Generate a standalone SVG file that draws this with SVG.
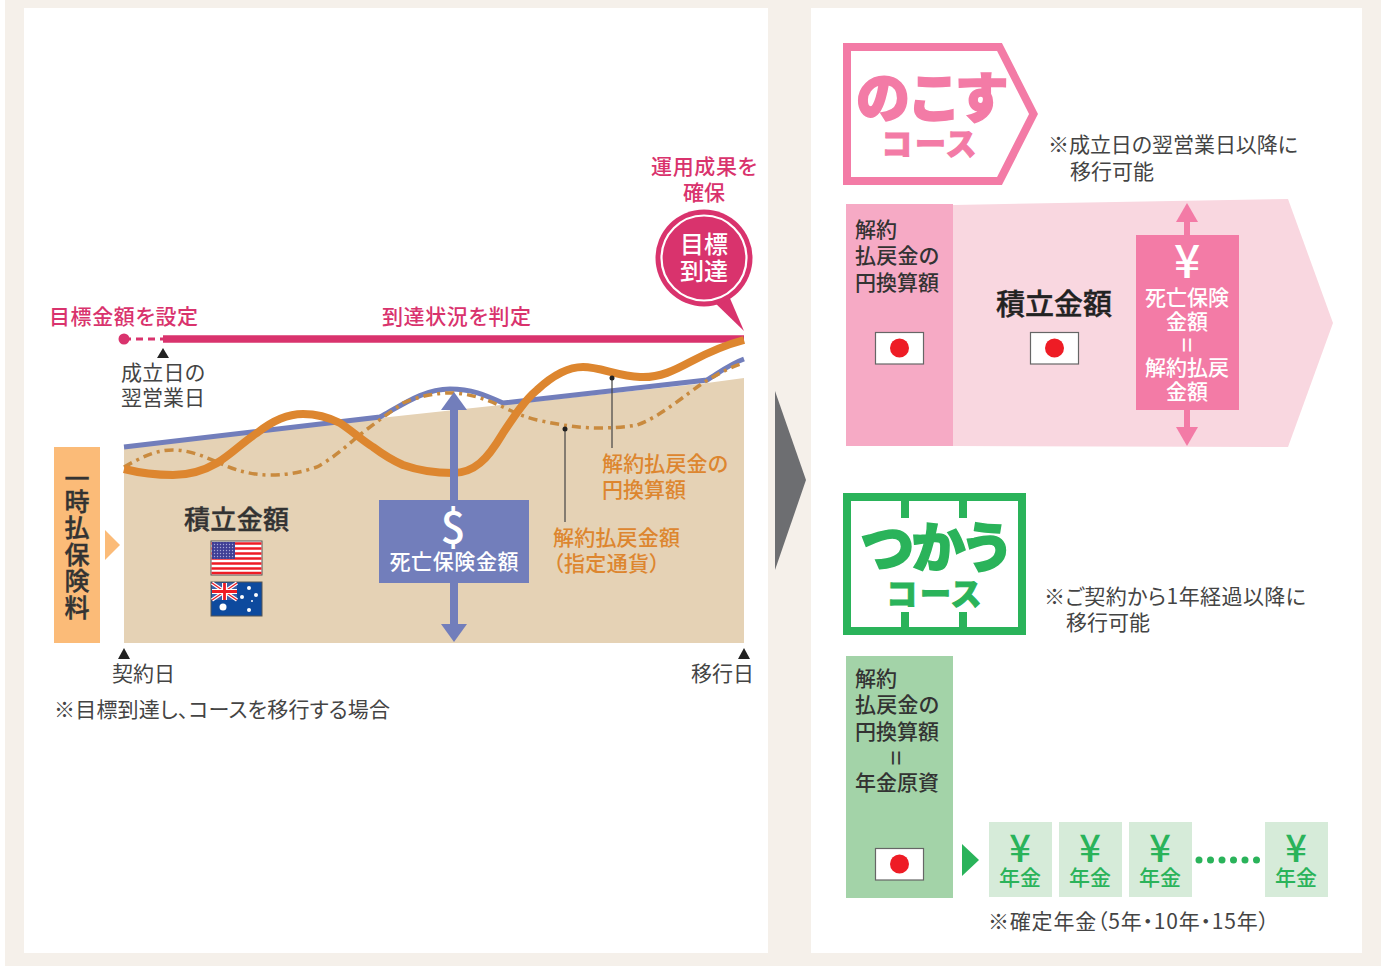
<svg xmlns="http://www.w3.org/2000/svg" width="1389" height="966" viewBox="0 0 1389 966">
<style>
text{font-family:"Noto Sans CJK JP","Noto Sans",sans-serif;font-feature-settings:"palt";fill:#444}
.m{font-size:21px;font-weight:500}
.r{font-size:21px;font-weight:400}
.d{fill:#333;font-weight:500;font-size:21px}
.k{fill:#d9336d}
.o{fill:#dd862f}
.w{fill:#fff}
.c{text-anchor:middle}
.y{font-weight:500;text-anchor:middle;font-feature-settings:normal}
.g{fill:#2ab35a}
.v{font-size:25px;font-weight:500;fill:#333;stroke:#333;stroke-width:.4;text-anchor:middle}
.fl{fill:#fff;stroke:#666;stroke-width:1.2}
.red{fill:#ee1c25}
.pk{fill:#f37ba6;stroke:#f37ba6;font-weight:900}
.gk{fill:#2ab35a;stroke:#2ab35a;font-weight:900}
</style>
<defs>
<pattern id="st" width="3" height="3" patternUnits="userSpaceOnUse"><rect width="3" height="3" fill="#3f3f95"/><circle cx="1.5" cy="1.5" r=".7" fill="#a9a9d8"/></pattern>
</defs>
<rect width="1389" height="966" fill="#fff"/>
<rect x="5" y="0" width="1376" height="966" fill="#f5f0ea"/>
<rect x="24" y="8" width="744" height="945" fill="#fff"/>
<rect x="811" y="8" width="551" height="945" fill="#fff"/>
<polygon id="big-arrow" points="775,391 806,480 775,570" fill="#6d6e71"/>

<g id="chart-area">
<path d="M124,447 L380,418 L707,383 L744,378 V643 H124 Z" fill="#e5d2b5"/>
</g>
<g id="premium">
<rect x="54" y="447" width="46" height="196" fill="#fbbb78"/>
<polygon points="105,530 120,545 105,560" fill="#fbbb78"/>
<text class="v" x="77" y="488">一</text>
<text class="v" x="77" y="511">時</text>
<text class="v" x="77" y="537">払</text>
<text class="v" x="77" y="564">保</text>
<text class="v" x="77" y="590">険</text>
<text class="v" x="77" y="617">料</text>
</g>
<g id="connectors">
<path d="M124,339 H163" fill="none" stroke="#d9336d" stroke-width="3" stroke-dasharray="7 5"/>
<path d="M163,339 H744" fill="none" stroke="#d9336d" stroke-width="7.5"/>
<path d="M124,447 L380,417 C405,403 425,389 450,389 C472,389 485,395 503,403 L707,380 C720,372 730,364 744,359" fill="none" stroke="#727ebb" stroke-width="5"/>
<path d="M124,467 C140,458 155,450 173,450 C190,450 205,457 217,462 C235,470 250,475 270,475 C290,475 305,471 317,467 C330,460 345,448 357,437 C372,425 388,414 403,403 C420,396 435,393 450,393 C470,393 488,400 503,407 C515,413 525,417 537,420 C560,425 580,428 597,428 C612,428 625,427 637,425 C660,417 685,395 703,383 C718,374 730,367 744,363" fill="none" stroke="#c98a3e" stroke-width="3.500" stroke-dasharray="9 5 3 5"/>
<path d="M124,469 C140,473 155,475 173,475 C190,475 205,470 217,463 C233,453 243,442 257,433 C272,421 288,414 303,414 C318,414 330,418 340,423 C352,431 362,440 373,447 C385,456 394,461 403,465 C420,471 435,473 453,473 C465,473 474,468 480,463 C490,455 497,443 503,433 C515,415 525,400 537,390 C552,376 568,367 583,367 C600,367 618,376 640,377 C660,378 675,370 690,362 C705,354 725,345 744,340" fill="none" stroke="#dd862f" stroke-width="8"/>
<path d="M565,429 V522 M612,378 V448" fill="none" stroke="#444" stroke-width="1.2"/>
<circle cx="565" cy="429" r="2.5" fill="#222"/>
<circle cx="612" cy="378" r="2.5" fill="#222"/>
<path d="M454,408 V500 M454,583 V627" fill="none" stroke="#727ebb" stroke-width="8"/>
<polygon points="454,392 467,410 441,410" fill="#727ebb"/>
<polygon points="454,642 467,624 441,624" fill="#727ebb"/>
<circle cx="124" cy="339" r="5.5" fill="#d9336d"/>
</g>
<g id="markers">
<polygon points="163,348 169,358 157,358" fill="#222"/>
<polygon points="124,648 130,659 118,659" fill="#222"/>
<polygon points="744,648 750,659 738,659" fill="#222"/>
</g>
<g id="labels-left">
<text class="m k" x="49" y="324" textLength="149">目標金額を設定</text>
<text class="m k" x="382" y="324" textLength="149">到達状況を判定</text>
<text class="m k c" x="704" y="174" textLength="106">運用成果を</text>
<text class="m k c" x="704" y="200">確保</text>
<text class="r" x="121" y="380" textLength="84">成立日の</text>
<text class="r" x="121" y="405" textLength="84">翌営業日</text>
<text class="r" x="112" y="681" textLength="63">契約日</text>
<text class="r" x="691" y="681" textLength="63">移行日</text>
<text class="r" x="54" y="717" textLength="336">※目標到達し、コースを移行する場合</text>
<text class="m o" x="602" y="471" textLength="126">解約払戻金の</text>
<text class="m o" x="602" y="497" textLength="84">円換算額</text>
<text class="m o" x="553" y="545" textLength="127">解約払戻金額</text>
<text class="m o" x="553" y="571" textLength="107">（指定通貨）</text>
<text x="184" y="529" style="font-size:26px;font-weight:500;fill:#333;stroke:#333;stroke-width:.4" textLength="105">積立金額</text>
</g>
<g id="goal-balloon">
<polygon points="712,300 729,296 744,331" fill="#d9336d"/>
<circle cx="704" cy="258" r="48.5" fill="#d9336d"/>
<circle cx="704" cy="258" r="42.5" fill="none" stroke="#fff" stroke-width="2.2"/>
<text class="c w" x="704" y="253" style="font-size:24px;font-weight:500">目標</text>
<text class="c w" x="704" y="280" style="font-size:24px;font-weight:500">到達</text>
</g>
<g id="death-benefit">
<rect x="379" y="500" width="150" height="83" fill="#727ebb"/>
<text class="c" x="453" y="543" style="font-size:44px;fill:#fff;font-weight:500">$</text>
<text class="w c m" x="454" y="569" textLength="129">死亡保険金額</text>
</g>
<g id="flag-us">
<rect x="211" y="541" width="51" height="34" fill="#fff" stroke="#555" stroke-width="1"/>
<path d="M211.500,543.500H261.500M211.500,548.500H261.500M211.500,553.500H261.500M211.500,558.500H261.500M211.500,563.500H261.500M211.500,568.500H261.500M211.500,573H261.500" stroke="#ee1c25" stroke-width="2.600" fill="none"/>
<rect x="212" y="542" width="23" height="17" fill="url(#st)"/>
</g>
<g id="flag-au">
<rect x="211" y="582" width="51" height="34" fill="#0d4a9e" stroke="#555" stroke-width="1"/>
<rect x="212" y="583" width="25" height="17" fill="#3d5fa8"/>
<path d="M212,583 L237,600 M237,583 L212,600" stroke="#fff" stroke-width="3.500"/>
<path d="M212,583 L237,600 M237,583 L212,600" stroke="#ee1c25" stroke-width="1.200"/>
<path d="M224.500,583 V600 M212,591.500 H237" stroke="#fff" stroke-width="5"/>
<path d="M224.500,583 V600 M212,591.500 H237" stroke="#ee1c25" stroke-width="2.800"/>
<g fill="#fff"><circle cx="223" cy="607" r="3.500"/><circle cx="249" cy="588" r="2"/><circle cx="256" cy="595" r="2"/><circle cx="242" cy="597" r="2"/><circle cx="252" cy="601" r="1"/><circle cx="249" cy="610" r="2"/></g>
</g>

<g id="nokosu-badge">
<polygon points="847,47 999.500,47 1033.500,114 999.500,181 847,181" fill="#fff" stroke="#f37ba6" stroke-width="8"/>
<text class="pk" x="856" y="118" style="font-size:54px;stroke-width:1.5" textLength="150">のこす</text>
<text class="pk" x="882" y="155" style="font-size:31px;stroke-width:1" textLength="94">コース</text>
</g>
<g id="nokosu-note">
<text class="r" x="1048" y="152" textLength="250">※成立日の翌営業日以降に</text>
<text class="r" x="1070" y="179" textLength="84">移行可能</text>
</g>
<g id="nokosu-arrow">
<polygon points="953,205 1288,199 1333,323 1288,447 953,446" fill="#f9d7e0"/>
</g>
<g id="nokosu-left">
<rect x="846" y="204" width="107" height="242" fill="#f6aac5"/>
<text class="d" x="855" y="237" textLength="42">解約</text>
<text class="d" x="855" y="263" textLength="84">払戻金の</text>
<text class="d" x="855" y="290" textLength="84">円換算額</text>
<rect class="fl" x="875.500" y="332.500" width="48" height="31.500"/><circle class="red" cx="899.500" cy="348" r="9.500"/>
</g>
<g id="nokosu-center">
<text x="996" y="315" style="font-size:29px;font-weight:500;fill:#222;stroke:#222;stroke-width:.4" textLength="116">積立金額</text>
<rect class="fl" x="1030.500" y="332.500" width="48" height="31.500"/><circle class="red" cx="1054.500" cy="348" r="9.500"/>
</g>
<g id="nokosu-arrows">
<path d="M1187,220 V236 M1187,409 V429" stroke="#f37ba6" stroke-width="6" fill="none"/>
<polygon points="1187,203 1198,222 1176,222" fill="#f37ba6"/>
<polygon points="1187,446 1198,427 1176,427" fill="#f37ba6"/>
</g>
<g id="nokosu-box">
<rect x="1136" y="235" width="103" height="175" fill="#f37ba6"/>
<text class="y" x="1187" y="278" style="font-size:46px;fill:#fff">¥</text>
<text class="c w m" x="1187" y="305" textLength="84">死亡保険</text>
<text class="c w m" x="1187" y="329" textLength="42">金額</text>
<text class="c w" x="1177" y="345" transform="rotate(90 1177 345)" style="font-size:27px">=</text>
<text class="c w m" x="1187" y="375" textLength="84">解約払戻</text>
<text class="c w m" x="1187" y="399" textLength="42">金額</text>
</g>

<g id="tsukau-badge">
<rect x="847" y="497" width="175" height="134" fill="#fff" stroke="#2ab35a" stroke-width="8"/>
<path d="M905,497 V518 M963,497 V518 M905,612 V631 M963,612 V631" stroke="#2ab35a" stroke-width="8" fill="none"/>
<text class="gk" x="861" y="568" style="font-size:54px;stroke-width:1.5" textLength="148">つかう</text>
<text class="gk" x="887" y="605" style="font-size:31px;stroke-width:1" textLength="94">コース</text>
</g>
<g id="tsukau-note">
<text class="r" x="1044" y="604" textLength="262">※ご契約から1年経過以降に</text>
<text class="r" x="1066" y="630" textLength="84">移行可能</text>
</g>
<g id="tsukau-left">
<rect x="846" y="656" width="107" height="242" fill="#a3d3a8"/>
<text class="d" x="855" y="686" textLength="42">解約</text>
<text class="d" x="855" y="712" textLength="84">払戻金の</text>
<text class="d" x="855" y="739" textLength="84">円換算額</text>
<text x="886" y="758" class="c" transform="rotate(90 886 758)" style="font-size:27px;fill:#333">=</text>
<text class="d" x="855" y="790" textLength="84">年金原資</text>
<rect class="fl" x="875.500" y="848.500" width="48" height="31.500"/><circle class="red" cx="899.500" cy="864" r="9.500"/>
</g>
<polygon id="tsukau-arrow" points="962,844 979,860 962,876" fill="#2ab35a"/>
<g id="pension-1"><rect x="989" y="822" width="63" height="75" fill="#d6ebd9"/><text class="y g" x="1020" y="862" style="font-size:38px">¥</text><text class="c m g" x="1020" y="885" textLength="42">年金</text></g>
<g id="pension-2"><rect x="1059" y="822" width="63" height="75" fill="#d6ebd9"/><text class="y g" x="1090" y="862" style="font-size:38px">¥</text><text class="c m g" x="1090" y="885" textLength="42">年金</text></g>
<g id="pension-3"><rect x="1129" y="822" width="63" height="75" fill="#d6ebd9"/><text class="y g" x="1160" y="862" style="font-size:38px">¥</text><text class="c m g" x="1160" y="885" textLength="42">年金</text></g>
<g id="pension-dots" fill="#2ab35a"><circle cx="1199" cy="860" r="3.500"/><circle cx="1210.500" cy="860" r="3.500"/><circle cx="1222" cy="860" r="3.500"/><circle cx="1233.500" cy="860" r="3.500"/><circle cx="1245" cy="860" r="3.500"/><circle cx="1256.500" cy="860" r="3.500"/></g>
<g id="pension-4"><rect x="1265" y="822" width="63" height="75" fill="#d6ebd9"/><text class="y g" x="1296" y="862" style="font-size:38px">¥</text><text class="c m g" x="1296" y="885" textLength="42">年金</text></g>
<text id="pension-note" class="r" x="988" y="929" textLength="281">※確定年金（5年・10年・15年）</text>
</svg>
